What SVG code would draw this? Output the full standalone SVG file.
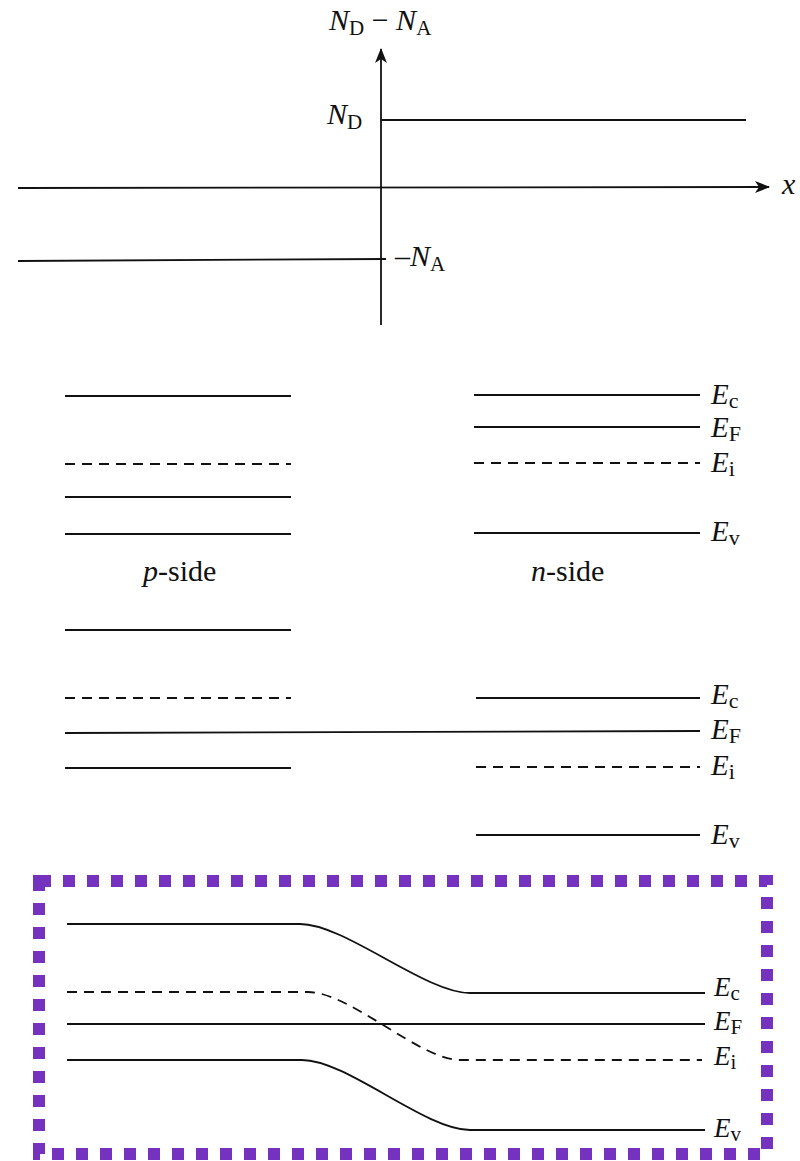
<svg xmlns="http://www.w3.org/2000/svg" width="800" height="1161" viewBox="0 0 800 1161">
<style>
.ln{stroke:#111;stroke-width:1.8;fill:none}
.ds{stroke:#111;stroke-width:1.8;fill:none;stroke-dasharray:10 7}
text{font-family:'Liberation Serif','Times New Roman','DejaVu Serif',serif;fill:#111}
.it{font-style:italic}
.box{fill:none;stroke:#7432be;stroke-width:12;stroke-dasharray:12 12}
</style>
<defs>
<marker id="ah" markerWidth="16" markerHeight="12" refX="14" refY="6" orient="auto" markerUnits="userSpaceOnUse">
<path d="M0,0 L15,6 L0,12 L4,6 Z" fill="#111"/>
</marker>
</defs>
<rect width="800" height="1161" fill="#fff"/>

<g id="axes">
<line class="ln" x1="381" y1="325" x2="381" y2="49" marker-end="url(#ah)"/>
<line class="ln" x1="18" y1="188" x2="769" y2="187" marker-end="url(#ah)"/>
<line class="ln" x1="381" y1="120" x2="746" y2="120"/>
<line class="ln" x1="18" y1="261" x2="386" y2="259"/>
<text font-family="'Liberation Serif',serif" x="329" y="30" font-size="30"><tspan class="it">N</tspan><tspan font-size="21" dy="5">D</tspan><tspan dy="-5"> − </tspan><tspan class="it">N</tspan><tspan font-size="21" dy="5">A</tspan></text>
<text font-family="'Liberation Serif',serif" x="327" y="124" font-size="30"><tspan class="it">N</tspan><tspan font-size="21" dy="5">D</tspan></text>
<text font-family="'Liberation Serif',serif" x="395" y="266" font-size="30">–<tspan class="it">N</tspan><tspan font-size="21" dy="5">A</tspan></text>
<text font-family="'Liberation Serif',serif" class="it" x="782" y="194" font-size="30">x</text>
</g>

<g id="separate">
<line class="ln" x1="65" y1="396" x2="291" y2="396"/>
<line class="ds" x1="65" y1="464" x2="291" y2="464"/>
<line class="ln" x1="65" y1="497" x2="291" y2="497"/>
<line class="ln" x1="65" y1="534" x2="291" y2="534"/>
<text font-family="'Liberation Serif',serif" x="143" y="581" font-size="30"><tspan class="it">p</tspan>-side</text>
<line class="ln" x1="474" y1="395" x2="700" y2="395"/>
<line class="ln" x1="474" y1="427" x2="700" y2="427"/>
<line class="ds" x1="474" y1="463" x2="700" y2="463"/>
<line class="ln" x1="474" y1="533" x2="700" y2="533"/>
<text font-family="'Liberation Serif',serif" x="531" y="581" font-size="30"><tspan class="it">n</tspan>-side</text>
<text font-family="'Liberation Serif',serif" x="711" y="404" font-size="29"><tspan class="it">E</tspan><tspan font-size="22" dy="4">c</tspan></text>
<text font-family="'Liberation Serif',serif" x="711" y="437" font-size="29"><tspan class="it">E</tspan><tspan font-size="22" dy="4">F</tspan></text>
<text font-family="'Liberation Serif',serif" x="711" y="472" font-size="29"><tspan class="it">E</tspan><tspan font-size="22" dy="4">i</tspan></text>
<text font-family="'Liberation Serif',serif" x="711" y="541" font-size="29"><tspan class="it">E</tspan><tspan font-size="22" dy="4">v</tspan></text>
</g>

<g id="aligned">
<line class="ln" x1="65" y1="630" x2="291" y2="630"/>
<line class="ds" x1="65" y1="698" x2="291" y2="698"/>
<line class="ln" x1="65" y1="733" x2="700" y2="731"/>
<line class="ln" x1="65" y1="768" x2="291" y2="768"/>
<line class="ln" x1="476" y1="698" x2="700" y2="698"/>
<line class="ds" x1="476" y1="767" x2="700" y2="767"/>
<line class="ln" x1="476" y1="835" x2="700" y2="835"/>
<text font-family="'Liberation Serif',serif" x="711" y="704" font-size="29"><tspan class="it">E</tspan><tspan font-size="22" dy="4">c</tspan></text>
<text font-family="'Liberation Serif',serif" x="711" y="739" font-size="29"><tspan class="it">E</tspan><tspan font-size="22" dy="4">F</tspan></text>
<text font-family="'Liberation Serif',serif" x="711" y="775" font-size="29"><tspan class="it">E</tspan><tspan font-size="22" dy="4">i</tspan></text>
<text font-family="'Liberation Serif',serif" x="711" y="844" font-size="29"><tspan class="it">E</tspan><tspan font-size="22" dy="4">v</tspan></text>
</g>

<g id="junction">
<rect class="box" x="39" y="881" width="728" height="273"/>
<path class="ln" d="M67,924 L300,924 C345,924 425,993 470,993 L705,993"/>
<path class="ds" d="M67,992 L308,992 C350,992 420,1060 460,1060 L702,1060"/>
<line class="ln" x1="67" y1="1024" x2="705" y2="1024"/>
<path class="ln" d="M67,1060 L302,1060 C347,1060 425,1130 470,1130 L705,1130"/>
<text font-family="'Liberation Serif',serif" x="714" y="996" font-size="27"><tspan class="it">E</tspan><tspan font-size="21" dy="4">c</tspan></text>
<text font-family="'Liberation Serif',serif" x="714" y="1030" font-size="27"><tspan class="it">E</tspan><tspan font-size="21" dy="4">F</tspan></text>
<text font-family="'Liberation Serif',serif" x="714" y="1065" font-size="27"><tspan class="it">E</tspan><tspan font-size="21" dy="4">i</tspan></text>
<text font-family="'Liberation Serif',serif" x="714" y="1137" font-size="27"><tspan class="it">E</tspan><tspan font-size="21" dy="4">v</tspan></text>
</g>
</svg>
